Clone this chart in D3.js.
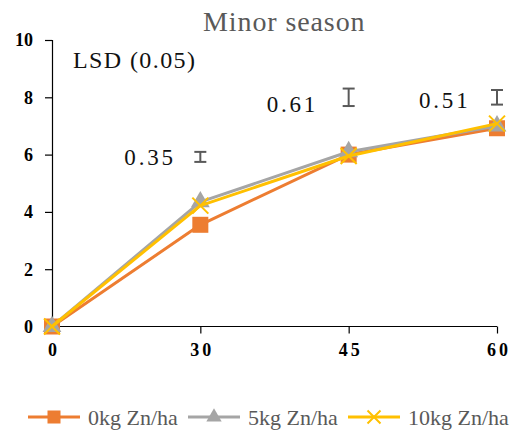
<!DOCTYPE html>
<html>
<head>
<meta charset="utf-8">
<script src="https://cdn.jsdelivr.net/npm/d3@7/dist/d3.min.js"></script>
<style>
  body { margin: 0; background: #fff; }
  svg { display: block; }
</style>
</head>
<body>
<svg id="chart" width="515" height="436"></svg>
<script>
// Days after sowing (categorical x axis)
const days = ["0", "30", "45", "60"];
const seriesNames = ["0kg Zn/ha", "5kg Zn/ha", "10kg Zn/ha"];
const zn0 = [0, 3.55, 6.0, 6.92];
const zn5 = [0, 4.35, 6.1, 7.0];
const zn10 = [0, 4.22, 5.95, 7.08];
const yTicks = [0, 2, 4, 6, 8, 10];

// LSD (0.05) bars: day, centre, value
const lsdDays = ["30", "45", "60"];
const lsdCentres = [5.92, 8.0, 8.0];
const lsdValues = [0.35, 0.61, 0.51];

const colors = ["#ED7D31", "#A5A5A5", "#FFC000"];
const shapes = ["square", "triangle", "cross"];
const series = [zn0, zn5, zn10].map((v, i) => ({ name: seriesNames[i], values: v, color: colors[i], shape: shapes[i] }));

const FONT = "'Liberation Serif', 'Times New Roman', serif";
const svg = d3.select("#chart");
const plotLeft = 52, plotRight = 497, plotTop = 40, plotBottom = 326.5;

const x = d3.scalePoint().domain(days).range([plotLeft, plotRight]).padding(0);
const y = d3.scaleLinear().domain([0, 10]).range([plotBottom, plotTop]);

function serifText(sel, size, weight) {
  return sel.style("font-family", FONT).style("font-size", size + "px").style("font-weight", weight || "normal");
}

// Title
serifText(svg.append("text"), 28)
  .attr("x", 203).attr("y", 31).attr("fill", "#595959").attr("letter-spacing", "0.9px")
  .text("Minor season");

// Y axis
const yAxis = svg.append("g").attr("transform", `translate(${plotLeft},0)`)
  .call(d3.axisLeft(y).tickValues(yTicks).tickSize(7).tickPadding(12).tickFormat(d3.format("d")));
yAxis.select(".domain").attr("stroke", "#000").attr("stroke-width", 1.2);
yAxis.selectAll(".tick line").attr("stroke", "#000").attr("stroke-width", 1.2);
serifText(yAxis.selectAll("text"), 18, "bold").attr("fill", "#000").attr("dy", "0.33em");

// X axis
const xAxis = svg.append("g").attr("transform", `translate(0,${plotBottom})`)
  .call(d3.axisBottom(x).tickSize(7).tickPadding(8));
xAxis.select(".domain").attr("stroke", "#000").attr("stroke-width", 1.2).attr("d", `M${plotLeft},0H${plotRight}`);
xAxis.selectAll(".tick line").attr("stroke", "#000").attr("stroke-width", 1.2);
serifText(xAxis.selectAll("text"), 18, "bold").attr("fill", "#000")
  .attr("letter-spacing", "3px").attr("dx", "1.5px").attr("dy", "0.8em");

// Marker drawing
function marker(g, shape, color, size) {
  if (shape === "square") {
    g.append("rect").attr("x", -size / 2).attr("y", -size / 2).attr("width", size).attr("height", size)
      .attr("fill", color);
  } else if (shape === "triangle") {
    g.append("path").attr("d", d3.symbol(d3.symbolTriangle, size * size * 0.6)()).attr("fill", color);
  } else {
    const h = size / 2;
    g.append("path").attr("d", `M${-h},${-h}L${h},${h}M${-h},${h}L${h},${-h}`)
      .attr("stroke", color).attr("stroke-width", 2).attr("fill", "none");
  }
}

const line = d3.line().x((d, i) => x(days[i])).y(d => y(d));

series.forEach(s => {
  const g = svg.append("g");
  g.append("path").datum(s.values).attr("d", line).attr("fill", "none")
    .attr("stroke", s.color).attr("stroke-width", 3).attr("stroke-linejoin", "round");
  s.values.forEach((v, i) => {
    const m = g.append("g").attr("transform", `translate(${x(days[i])},${y(v)})`);
    marker(m, s.shape, s.color, 16);
  });
});

// LSD heading and bars
serifText(svg.append("text"), 24)
  .attr("x", 73).attr("y", 68).attr("fill", "#111").attr("letter-spacing", "1.4px")
  .text("LSD (0.05)");

const lsdLabelDx = [-76, -82, -78];
const lsdLabelDy = [8, 14.5, 11];
lsdDays.forEach((d, i) => {
  const cx = x(d);
  const y1 = y(lsdCentres[i] - lsdValues[i] / 2);
  const y2 = y(lsdCentres[i] + lsdValues[i] / 2);
  const g = svg.append("g").attr("stroke", "#595959").attr("stroke-width", 2);
  g.append("line").attr("x1", cx).attr("x2", cx).attr("y1", y1).attr("y2", y2);
  g.append("line").attr("x1", cx - 6).attr("x2", cx + 6).attr("y1", y1).attr("y2", y1);
  g.append("line").attr("x1", cx - 6).attr("x2", cx + 6).attr("y1", y2).attr("y2", y2);
  serifText(svg.append("text"), 23)
    .attr("x", cx + lsdLabelDx[i]).attr("y", y(lsdCentres[i]) + lsdLabelDy[i])
    .attr("fill", "#111").attr("letter-spacing", "2.8px")
    .text(lsdValues[i].toFixed(2));
});

// Legend
const legendX = [28, 188, 348];
series.forEach((s, i) => {
  const g = svg.append("g").attr("transform", `translate(${legendX[i]},417)`);
  g.append("line").attr("x1", 0).attr("x2", 52).attr("stroke", s.color).attr("stroke-width", 3);
  const m = g.append("g").attr("transform", "translate(26,0)");
  marker(m, s.shape, s.color, 13);
  serifText(g.append("text"), 22)
    .attr("x", 60).attr("y", 8).attr("fill", "#595959").text(s.name);
});
</script>
</body>
</html>
